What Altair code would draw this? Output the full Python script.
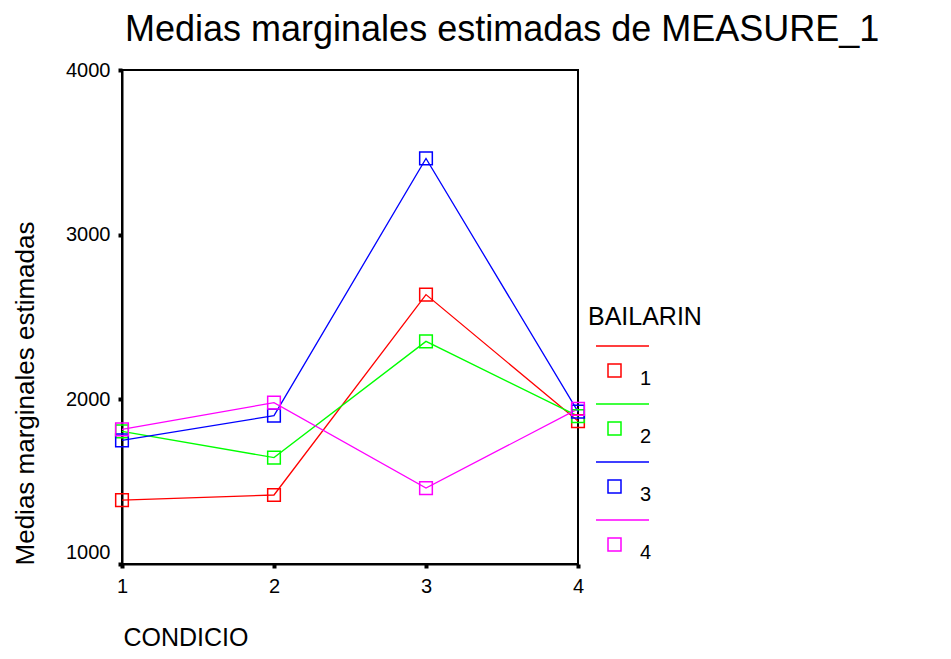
import altair as alt
import pandas as pd

titulo = "Medias marginales estimadas de MEASURE_1"
condicio = [1, 2, 3, 4]
bailarines = ["1", "2", "3", "4"]
b1 = [1388, 1419, 2636, 1868]
b2 = [1805, 1646, 2352, 1898]
b3 = [1751, 1901, 3463, 1925]
b4 = [1818, 1980, 1461, 1942]
colores = ["#FF0000", "#00FF00", "#0000FF", "#FF00FF"]
y_ticks = [1000, 2000, 3000, 4000]

rows = []
for b, serie in zip(bailarines, [b1, b2, b3, b4]):
    for c, v in zip(condicio, serie):
        rows.append({"CONDICIO": c, "BAILARIN": b, "media": v})
df = pd.DataFrame(rows)

FONT = "Liberation Sans"

# legend symbol: a line above a small square (SPSS style)
legend_path = "M-0.72,-1.32H1.4M-0.24,-0.6H0.28V-0.08H-0.24Z"

color = alt.Color(
    "BAILARIN:N",
    scale=alt.Scale(domain=bailarines, range=colores),
    legend=alt.Legend(
        orient="none",
        legendX=466,
        legendY=235,
        title="BAILARIN",
        titleFont=FONT,
        titleFontSize=25,
        titleFontWeight="normal",
        titleColor="black",
        titlePadding=23,
        labelFont=FONT,
        labelFontSize=20,
        labelColor="black",
        labelOffset=0,
        symbolType=legend_path,
        symbolSize=2500,
        symbolStrokeWidth=1.5,
        symbolFillColor="transparent",
        rowPadding=12,
        padding=0,
    ),
)

x = alt.X(
    "CONDICIO:Q",
    scale=alt.Scale(domain=[1, 4], nice=False, zero=False),
    axis=alt.Axis(
        values=condicio,
        format="d",
        title="CONDICIO",
        titleFont=FONT,
        titleFontSize=25,
        titleFontWeight="normal",
        titleColor="black",
        titleAlign="left",
        titleBaseline="alphabetic",
        titleAnchor="start",
        titleX=1,
        titleY=81,
        labelFont=FONT,
        labelFontSize=20,
        labelColor="black",
        labelPadding=8,
        labelFlush=False,
        tickColor="black",
        tickWidth=4,
        tickSize=4,
        domainColor="black",
        domainWidth=2,
        grid=False,
    ),
)

y = alt.Y(
    "media:Q",
    scale=alt.Scale(domain=[1000, 4000], nice=False, zero=False),
    axis=alt.Axis(
        values=y_ticks,
        format="d",
        title="Medias marginales estimadas",
        titleFont=FONT,
        titleFontSize=26,
        titleFontWeight="normal",
        titleColor="black",
        titleAngle=270,
        titleAlign="center",
        titleBaseline="middle",
        titleX=-97,
        titleY=323,
        labelFont=FONT,
        labelFontSize=20,
        labelColor="black",
        labelPadding=8,
        labelFlush=False,
        labelOffset={"condition": {"test": "datum.value == 1000", "value": -12}, "value": 0},
        tickColor="black",
        tickWidth=4,
        tickSize=4,
        domainColor="black",
        domainWidth=2,
        grid=False,
    ),
)

base = alt.Chart(df)
lines = base.mark_line(strokeWidth=1.3).encode(x=x, y=y, color=color)
points = base.mark_point(shape="square", filled=False, size=160, strokeWidth=1.5, opacity=1).encode(
    x=x, y=y, color=color
)
title_text = (
    alt.Chart(pd.DataFrame({"t": [titulo]}))
    .mark_text(align="left", baseline="alphabetic", font=FONT, fontSize=36, color="black")
    .encode(text="t:N", x=alt.value(3), y=alt.value(-29))
)

chart = (
    alt.layer(lines, points, title_text)
    .properties(
        width=456,
        height=494,
        autosize=alt.AutoSizeParams(type="none"),
        padding={"left": 114, "top": 62, "right": 340, "bottom": 87},
    )
    .configure(background="white", view=alt.ViewConfig(stroke="black", strokeWidth=2))
)

chart.save("out.html", embed_options={"renderer": "svg", "actions": False})
